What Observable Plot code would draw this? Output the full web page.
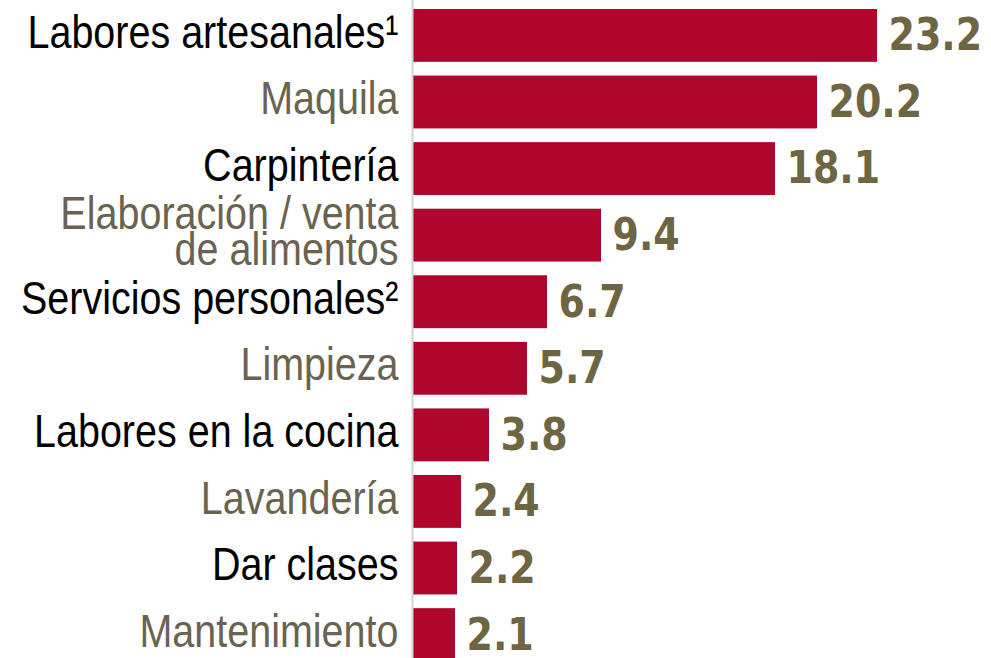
<!DOCTYPE html>
<html>
<head>
<meta charset="utf-8">
<script src="https://cdn.jsdelivr.net/npm/d3@7"></script>
<script src="https://cdn.jsdelivr.net/npm/@observablehq/plot@0.6"></script>
<style>
  html, body { margin: 0; padding: 0; background: #fff; }
  #chart { width: 991px; height: 658px; overflow: hidden; }
  #chart svg { display: block; }
</style>
</head>
<body>
<div id="chart"></div>
<script>
const categories = [
  "Labores artesanales¹",
  "Maquila",
  "Carpintería",
  "Elaboración / venta\nde alimentos",
  "Servicios personales²",
  "Limpieza",
  "Labores en la cocina",
  "Lavandería",
  "Dar clases",
  "Mantenimiento"
];
const values = [23.2, 20.2, 18.1, 9.4, 6.7, 5.7, 3.8, 2.4, 2.2, 2.1];
const valueLabels = ["23.2", "20.2", "18.1", "9.4", "6.7", "5.7", "3.8", "2.4", "2.2", "2.1"];

const data = categories.map((c, i) => ({ cat: c, value: values[i], label: valueLabels[i], odd: i % 2 === 1 }));

const W = 991, H = 568, STRETCH = 1.18;

const chart = Plot.plot({
  width: W,
  height: H,
  marginLeft: 413,
  marginRight: 0,
  marginTop: 0,
  marginBottom: 0,
  x: { domain: [0, 28.9], axis: null },
  y: { domain: categories, axis: null, paddingInner: 0.206, paddingOuter: 0.135, round: false },
  marks: [
    Plot.barX(data, { x: "value", y: "cat", fill: "#ae062c" }),
    Plot.ruleX([0], { stroke: "#d4d4d4", strokeWidth: 2, dx: -1 }),
    Plot.text(data, {
      x: 0, y: "cat", text: "cat", textAnchor: "end", dx: -15,
      fontFamily: "Liberation Sans, Arial, sans-serif", fontSize: 39.5, lineHeight: 0.77,
      fill: d => d.odd ? "#6a6352" : "#000000"
    }),
    Plot.text(data, {
      x: "value", y: "cat", text: "label", textAnchor: "start", dx: 11,
      fontFamily: "DejaVu Sans, sans-serif", fontWeight: "bold", fontSize: 38,
      fill: "#6e6543"
    })
  ]
});
// stretch vertically like the reference (non-uniform viewBox scaling)
chart.setAttribute("viewBox", `0 0 ${W} ${H}`);
chart.setAttribute("preserveAspectRatio", "none");
chart.setAttribute("height", Math.round(H * STRETCH));
chart.style.height = Math.round(H * STRETCH) + "px";
document.getElementById("chart").appendChild(chart);
</script>
</body>
</html>
